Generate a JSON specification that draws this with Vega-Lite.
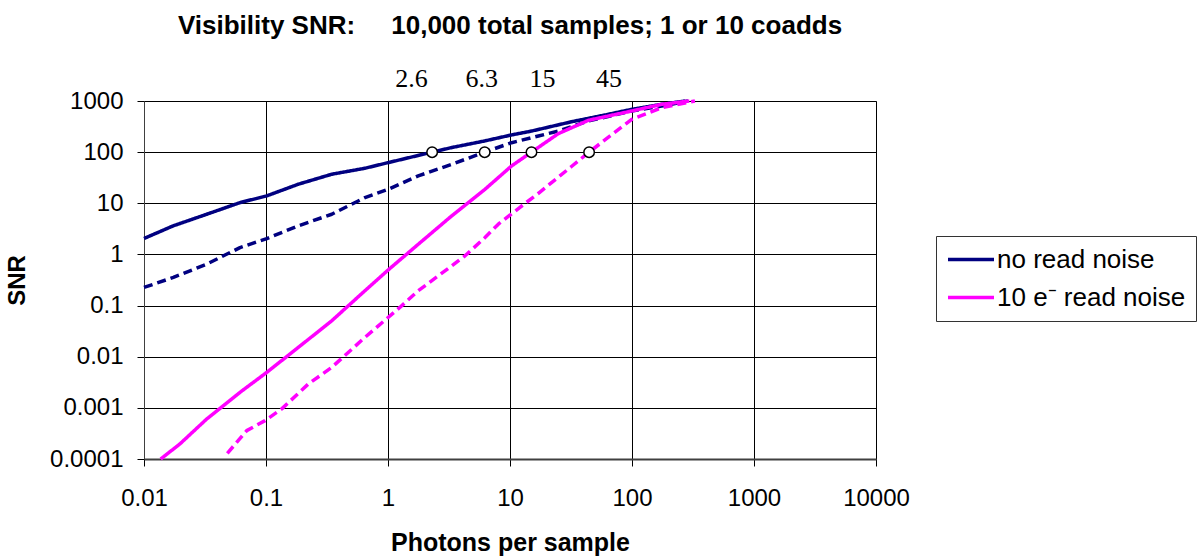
{
  "$schema": "https://vega.github.io/schema/vega-lite/v6.json",
  "autosize": "none",
  "width": 732,
  "height": 358,
  "padding": {"left": 144, "top": 101, "right": 323, "bottom": 97},
  "background": "white",
  "title": {
    "text": "Visibility SNR:\u00a0\u00a0\u00a0\u00a0 10,000 total samples; 1 or 10 coadds",
    "font": "Liberation Sans",
    "fontSize": 26,
    "fontWeight": "bold",
    "color": "black",
    "frame": "group",
    "anchor": "middle",
    "offset": 27
  },
  "datasets": {
    "curves": [
      {"x": 0.01, "y": 2.05, "noise": "no read noise", "coadds": "1"},
      {"x": 0.0174, "y": 3.63, "noise": "no read noise", "coadds": "1"},
      {"x": 0.0327, "y": 6.11, "noise": "no read noise", "coadds": "1"},
      {"x": 0.0612, "y": 10.3, "noise": "no read noise", "coadds": "1"},
      {"x": 0.1014, "y": 13.96, "noise": "no read noise", "coadds": "1"},
      {"x": 0.184, "y": 23.6, "noise": "no read noise", "coadds": "1"},
      {"x": 0.346, "y": 37.0, "noise": "no read noise", "coadds": "1"},
      {"x": 0.647, "y": 48.4, "noise": "no read noise", "coadds": "1"},
      {"x": 1.006, "y": 62.5, "noise": "no read noise", "coadds": "1"},
      {"x": 2.3, "y": 100, "noise": "no read noise", "coadds": "1"},
      {"x": 3.33, "y": 123, "noise": "no read noise", "coadds": "1"},
      {"x": 6.24, "y": 166, "noise": "no read noise", "coadds": "1"},
      {"x": 10.3, "y": 217, "noise": "no read noise", "coadds": "1"},
      {"x": 15.1, "y": 259, "noise": "no read noise", "coadds": "1"},
      {"x": 32.1, "y": 394, "noise": "no read noise", "coadds": "1"},
      {"x": 60.1, "y": 533, "noise": "no read noise", "coadds": "1"},
      {"x": 99.5, "y": 687, "noise": "no read noise", "coadds": "1"},
      {"x": 175, "y": 861, "noise": "no read noise", "coadds": "1"},
      {"x": 272, "y": 1000, "noise": "no read noise", "coadds": "1"},

      {"x": 0.01, "y": 0.226, "noise": "no read noise", "coadds": "10"},
      {"x": 0.0174, "y": 0.355, "noise": "no read noise", "coadds": "10"},
      {"x": 0.0327, "y": 0.646, "noise": "no read noise", "coadds": "10"},
      {"x": 0.0612, "y": 1.36, "noise": "no read noise", "coadds": "10"},
      {"x": 0.1014, "y": 2.04, "noise": "no read noise", "coadds": "10"},
      {"x": 0.184, "y": 3.62, "noise": "no read noise", "coadds": "10"},
      {"x": 0.346, "y": 6.11, "noise": "no read noise", "coadds": "10"},
      {"x": 0.647, "y": 12.9, "noise": "no read noise", "coadds": "10"},
      {"x": 1.006, "y": 18.8, "noise": "no read noise", "coadds": "10"},
      {"x": 1.77, "y": 34.3, "noise": "no read noise", "coadds": "10"},
      {"x": 3.33, "y": 57.9, "noise": "no read noise", "coadds": "10"},
      {"x": 6.2, "y": 100, "noise": "no read noise", "coadds": "10"},
      {"x": 10.3, "y": 153, "noise": "no read noise", "coadds": "10"},
      {"x": 17.1, "y": 207, "noise": "no read noise", "coadds": "10"},
      {"x": 24.9, "y": 259, "noise": "no read noise", "coadds": "10"},
      {"x": 43.9, "y": 407, "noise": "no read noise", "coadds": "10"},
      {"x": 99.5, "y": 638, "noise": "no read noise", "coadds": "10"},
      {"x": 175, "y": 794, "noise": "no read noise", "coadds": "10"},
      {"x": 288, "y": 1000, "noise": "no read noise", "coadds": "10"},

      {"x": 0.0137, "y": 0.0001, "noise": "10 e⁻ read noise", "coadds": "1"},
      {"x": 0.0197, "y": 0.000197, "noise": "10 e⁻ read noise", "coadds": "1"},
      {"x": 0.0327, "y": 0.000607, "noise": "10 e⁻ read noise", "coadds": "1"},
      {"x": 0.0612, "y": 0.00201, "noise": "10 e⁻ read noise", "coadds": "1"},
      {"x": 0.1014, "y": 0.00494, "noise": "10 e⁻ read noise", "coadds": "1"},
      {"x": 0.184, "y": 0.0152, "noise": "10 e⁻ read noise", "coadds": "1"},
      {"x": 0.346, "y": 0.0505, "noise": "10 e⁻ read noise", "coadds": "1"},
      {"x": 0.647, "y": 0.195, "noise": "10 e⁻ read noise", "coadds": "1"},
      {"x": 1.006, "y": 0.5, "noise": "10 e⁻ read noise", "coadds": "1"},
      {"x": 1.77, "y": 1.58, "noise": "10 e⁻ read noise", "coadds": "1"},
      {"x": 3.33, "y": 5.68, "noise": "10 e⁻ read noise", "coadds": "1"},
      {"x": 6.24, "y": 18.8, "noise": "10 e⁻ read noise", "coadds": "1"},
      {"x": 10.3, "y": 53.7, "noise": "10 e⁻ read noise", "coadds": "1"},
      {"x": 15, "y": 100, "noise": "10 e⁻ read noise", "coadds": "1"},
      {"x": 24.9, "y": 230, "noise": "10 e⁻ read noise", "coadds": "1"},
      {"x": 43.9, "y": 419, "noise": "10 e⁻ read noise", "coadds": "1"},
      {"x": 99.5, "y": 638, "noise": "10 e⁻ read noise", "coadds": "1"},
      {"x": 175, "y": 861, "noise": "10 e⁻ read noise", "coadds": "1"},
      {"x": 295, "y": 1000, "noise": "10 e⁻ read noise", "coadds": "1"},

      {"x": 0.0482, "y": 0.000129, "noise": "10 e⁻ read noise", "coadds": "10"},
      {"x": 0.0695, "y": 0.000359, "noise": "10 e⁻ read noise", "coadds": "10"},
      {"x": 0.0982, "y": 0.000562, "noise": "10 e⁻ read noise", "coadds": "10"},
      {"x": 0.1346, "y": 0.000955, "noise": "10 e⁻ read noise", "coadds": "10"},
      {"x": 0.222, "y": 0.00292, "noise": "10 e⁻ read noise", "coadds": "10"},
      {"x": 0.346, "y": 0.0062, "noise": "10 e⁻ read noise", "coadds": "10"},
      {"x": 0.647, "y": 0.0239, "noise": "10 e⁻ read noise", "coadds": "10"},
      {"x": 1.25, "y": 0.092, "noise": "10 e⁻ read noise", "coadds": "10"},
      {"x": 1.77, "y": 0.195, "noise": "10 e⁻ read noise", "coadds": "10"},
      {"x": 3.33, "y": 0.598, "noise": "10 e⁻ read noise", "coadds": "10"},
      {"x": 4.28, "y": 0.94, "noise": "10 e⁻ read noise", "coadds": "10"},
      {"x": 6.24, "y": 2.14, "noise": "10 e⁻ read noise", "coadds": "10"},
      {"x": 8.02, "y": 3.9, "noise": "10 e⁻ read noise", "coadds": "10"},
      {"x": 12.0, "y": 8.26, "noise": "10 e⁻ read noise", "coadds": "10"},
      {"x": 17.1, "y": 15.7, "noise": "10 e⁻ read noise", "coadds": "10"},
      {"x": 32.1, "y": 53, "noise": "10 e⁻ read noise", "coadds": "10"},
      {"x": 44.5, "y": 100, "noise": "10 e⁻ read noise", "coadds": "10"},
      {"x": 99.5, "y": 439, "noise": "10 e⁻ read noise", "coadds": "10"},
      {"x": 175, "y": 741, "noise": "10 e⁻ read noise", "coadds": "10"},
      {"x": 328, "y": 1000, "noise": "10 e⁻ read noise", "coadds": "10"}
    ],
    "markers": [
      {"x": 2.3, "y": 100},
      {"x": 6.2, "y": 100},
      {"x": 15, "y": 100},
      {"x": 44.5, "y": 100}
    ],
    "labels": [
      {"x": 1.56, "y": 1880, "label": "2.6"},
      {"x": 5.86, "y": 1880, "label": "6.3"},
      {"x": 18.5, "y": 1880, "label": "15"},
      {"x": 64.8, "y": 1880, "label": "45"}
    ]
  },
  "encoding": {
    "x": {
      "field": "x",
      "type": "quantitative",
      "scale": {"type": "log", "domain": [0.01, 10000], "nice": false},
      "axis": {
        "title": "Photons per sample",
        "values": [0.01, 0.1, 1, 10, 100, 1000, 10000],
        "labelExpr": "format(datum.value, '~f')",
        "labelPadding": 20,
        "labelFlush": false,
        "labelOverlap": false,
        "titleX": 366,
        "titleY": 91,
        "titleFontSize": 25,
        "titleBaseline": "alphabetic",
        "domainWidth": 2,
        "domainColor": "#404040"
      }
    },
    "y": {
      "field": "y",
      "type": "quantitative",
      "scale": {"type": "log", "domain": [0.0001, 1000], "nice": false},
      "axis": {
        "title": "SNR",
        "values": [0.0001, 0.001, 0.01, 0.1, 1, 10, 100, 1000],
        "labelExpr": "format(datum.value, '~f')",
        "labelPadding": 14,
        "labelOverlap": false,
        "titleX": -127,
        "titleY": 179,
        "titleAngle": -90,
        "titleAlign": "center",
        "titleBaseline": "middle",
        "domainColor": "#404040"
      }
    }
  },
  "layer": [
    {
      "data": {"name": "curves"},
      "mark": {"type": "line", "strokeWidth": 3.5, "strokeJoin": "round", "strokeCap": "butt"},
      "encoding": {
        "color": {
          "field": "noise",
          "type": "nominal",
          "scale": {"domain": ["no read noise", "10 e⁻ read noise"], "range": ["#000080", "#FF00FF"]},
          "legend": {
            "orient": "none",
            "legendX": 792,
            "legendY": 135,
            "title": null,
            "symbolType": "M-1,0H3",
            "symbolSize": 529,
            "symbolStrokeWidth": 3.5,
            "labelFont": "Liberation Sans",
            "labelFontSize": 26,
            "labelColor": "black",
            "labelOffset": 24,
            "labelLimit": 400,
            "rowPadding": 11,
            "padding": 10,
            "strokeColor": "#333333",
            "fillColor": "white"
          }
        },
        "strokeDash": {
          "field": "coadds",
          "type": "nominal",
          "scale": {"domain": ["1", "10"], "range": [[1, 0], [9, 5]]},
          "legend": null
        }
      }
    },
    {
      "data": {"name": "markers"},
      "mark": {"type": "point", "shape": "circle", "filled": true, "fill": "white", "stroke": "black", "strokeWidth": 1.5, "size": 110, "opacity": 1}
    },
    {
      "data": {"name": "labels"},
      "mark": {"type": "text", "font": "Liberation Serif", "fontSize": 26, "color": "black", "align": "center", "baseline": "alphabetic"},
      "encoding": {"text": {"field": "label"}}
    }
  ],
  "config": {
    "view": {"stroke": "#888888", "strokeWidth": 1},
    "axis": {
      "grid": true,
      "gridColor": "black",
      "gridWidth": 1,
      "gridOpacity": 1,
      "tickSize": 7,
      "tickColor": "black",
      "tickWidth": 1,
      "labelFont": "Liberation Sans",
      "labelFontSize": 24,
      "labelColor": "black",
      "titleFont": "Liberation Sans",
      "titleFontSize": 24,
      "titleFontWeight": "bold",
      "titleColor": "black"
    }
  }
}
